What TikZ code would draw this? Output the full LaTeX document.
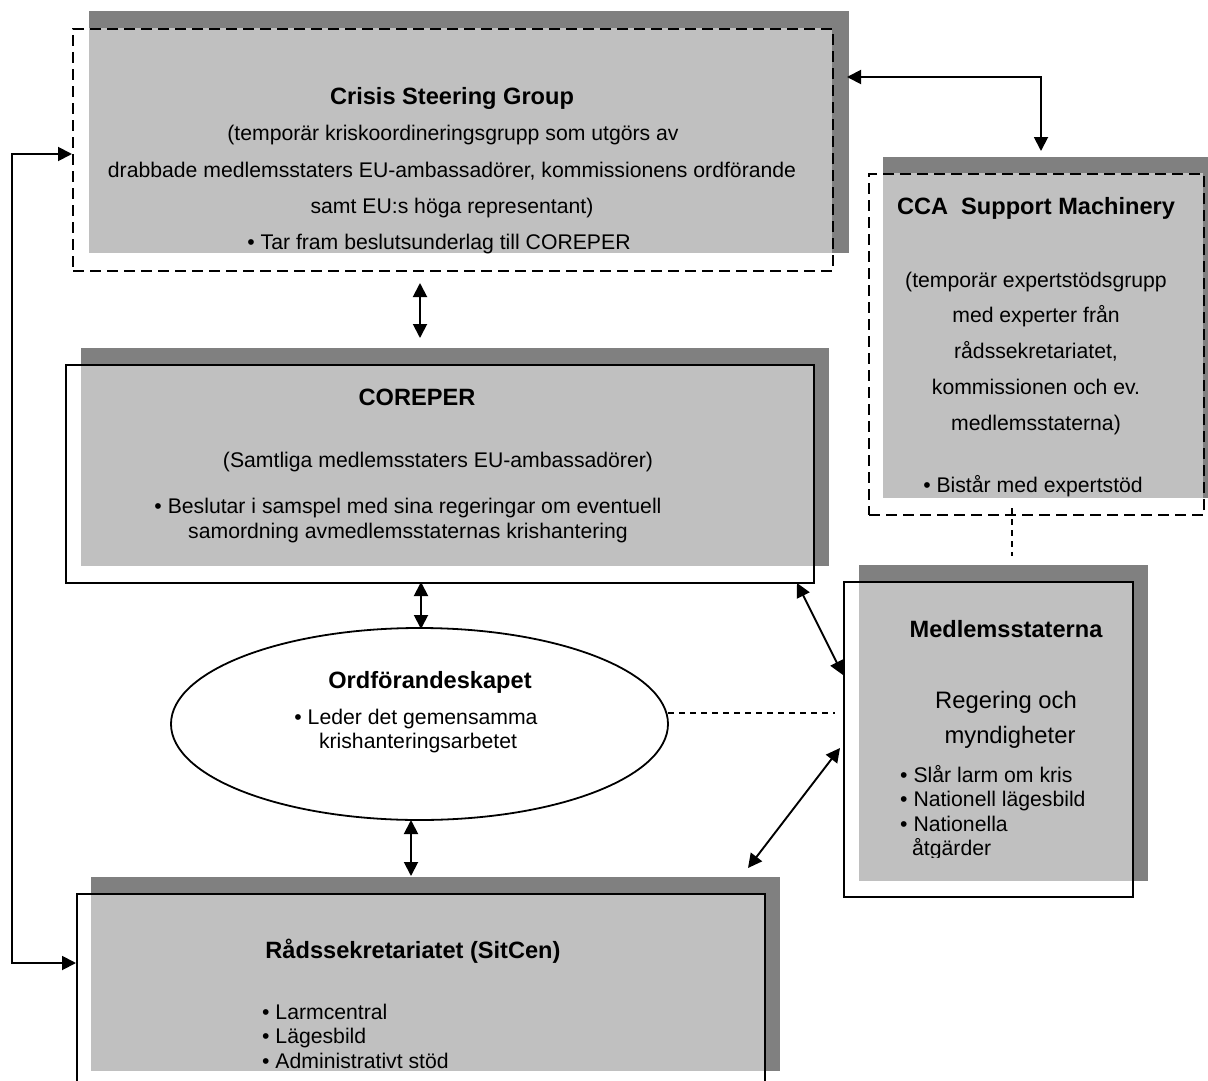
\documentclass[tikz,border=0pt]{standalone}
\usepackage{fontspec}
\setmainfont{Liberation Sans}
\usetikzlibrary{arrows.meta,shapes.geometric}
\definecolor{shadedark}{RGB}{128,128,128}
\definecolor{shadelight}{RGB}{192,192,192}
\newcommand\fbody{\fontsize{21.2}{25}\selectfont}
\newcommand\ftitle{\fontsize{23.6}{28}\selectfont\bfseries}
\newcommand\fbig{\fontsize{23.8}{28}\selectfont}
\tikzset{
  darkfill/.style={fill=shadedark},
  lightfill/.style={fill=shadelight},
  dashframe/.style={draw, rectangle, line width=2pt, dash pattern=on 11pt off 6pt, inner sep=0pt, anchor=north west},
  solidframe/.style={draw, rectangle, line width=2pt, inner sep=0pt, anchor=north west},
  ttl/.style={font=\ftitle, anchor=base, inner sep=0pt},
  txt/.style={font=\fbody, anchor=base, inner sep=0pt},
  txtl/.style={font=\fbody, anchor=base west, inner sep=0pt},
  big/.style={font=\fbig, anchor=base, inner sep=0pt},
  dbl/.style={{Triangle[length=14pt,width=14pt]}-{Triangle[length=14pt,width=14pt]}, line width=1.9pt},
  dashline/.style={line width=1.5pt, dash pattern=on 6pt off 5pt}
}
\begin{document}
\begin{tikzpicture}[x=1pt,y=-1pt]
\useasboundingbox (0,0) rectangle (1208,1081);
\clip (0,0) rectangle (1208,1081);
% shadows and fills
\fill[darkfill] (89,11) rectangle (849,253);
\fill[lightfill] (89,28) rectangle (832,253);
\fill[darkfill] (883,157) rectangle (1208,498);
\fill[lightfill] (883,173) rectangle (1203,498);
\fill[darkfill] (81,348) rectangle (829,566);
\fill[lightfill] (81,364) rectangle (813,566);
\fill[darkfill] (859,565) rectangle (1148,881);
\fill[lightfill] (859,581) rectangle (1132,881);
\fill[darkfill] (91,877) rectangle (780,1071);
\fill[lightfill] (91,893) rectangle (764,1071);
% frames
\node[dashframe, minimum width=760pt, minimum height=242pt] (csg) at (72,28) {};
\node[dashframe, minimum width=335pt, minimum height=341pt] (cca) at (868,173) {};
\node[solidframe, minimum width=748pt, minimum height=218pt] (cor) at (65,364) {};
\node[solidframe, minimum width=289pt, minimum height=315pt] (med) at (843,581) {};
\node[solidframe, minimum width=688pt, minimum height=194pt] (rs) at (76,893) {};
\node[draw, ellipse, line width=1.8pt, minimum width=497pt, minimum height=192pt, inner sep=0pt] (ordf) at (419.5,724) {};
% connector coordinates
\coordinate (csgL) at (72,154);
\coordinate (rsL) at (76,963);
\coordinate (csgR) at (847,77);
\coordinate (ccaT) at (1041,151);
\coordinate (csgB) at (420,283);
\coordinate (corT) at (420,338);
\coordinate (corB) at (421,582);
\coordinate (ordfT) at (421,629);
\coordinate (ordfB) at (411,820);
\coordinate (rsT) at (411,876);
\coordinate (corBR) at (797,583);
\coordinate (medL1) at (843,675);
\coordinate (medL2) at (840,748);
\coordinate (rsTR) at (748,868);
\coordinate (ordfR) at (668,713);
\coordinate (medL3) at (835,713);
\coordinate (ccaB) at (1012,508);
\coordinate (medT) at (1012,556);
% connectors
\draw[dbl] (csgL) -- (12,154) -- (12,963) -- (rsL);
\draw[dbl] (csgR) -- (1041,77) -- (ccaT);
\draw[dbl] (csgB) -- (corT);
\draw[dbl] (corB) -- (ordfT);
\draw[dbl] (ordfB) -- (rsT);
\draw[dbl] (corBR) -- (medL1);
\draw[dbl] (medL2) -- (rsTR);
\draw[dashline] (ordfR) -- (medL3);
\draw[dashline] (ccaB) -- (medT);
% CSG text
\node[ttl] (csg1) at (452,104) {Crisis Steering Group};
\node[txt] (csg2) at (453,140) {(temporär kriskoordineringsgrupp som utgörs av};
\node[txt] (csg3) at (452,177) {drabbade medlemsstaters EU-ambassadörer, kommissionens ordförande};
\node[txt] (csg4) at (452,213) {samt EU:s höga representant)};
\node[txt] (csg5) at (439,249) {• Tar fram beslutsunderlag till COREPER};
% CCA text
\node[ttl] (cca1) at (1036,214) {CCA\ \ Support Machinery};
\node[txt] (cca2) at (1036,287) {(temporär expertstödsgrupp};
\node[txt] (cca3) at (1036,322) {med experter från};
\node[txt] (cca4) at (1036,358) {rådssekretariatet,};
\node[txt] (cca5) at (1036,394) {kommissionen och ev.};
\node[txt] (cca6) at (1036,430) {medlemsstaterna)};
\node[txt] (cca7) at (1033,492) {• Bistår med expertstöd};
% COREPER text
\node[ttl] (cor1) at (417,405) {COREPER};
\node[txt] (cor2) at (438,467) {(Samtliga medlemsstaters EU-ambassadörer)};
\node[txt] (cor3) at (408,513) {• Beslutar i samspel med sina regeringar om eventuell};
\node[txt] (cor4) at (408,538) {samordning avmedlemsstaternas krishantering};
% Ordforandeskapet text
\node[ttl] (ordf1) at (430,688) {Ordförandeskapet};
\node[txt] (ordf2) at (416,724) {• Leder det gemensamma};
\node[txt] (ordf3) at (418,748) {krishanteringsarbetet};
% Medlemsstaterna text
\node[ttl] (med1) at (1006,637) {Medlemsstaterna};
\node[big] (med2) at (1006,708) {Regering och};
\node[big] (med3) at (1010,743) {myndigheter};
\node[txtl] (med4) at (900,782) {• Slår larm om kris};
\node[txtl] (med5) at (900,806) {• Nationell lägesbild};
\node[txtl] (med6) at (900,831) {• Nationella};
\begin{scope}
\clip (880,830) rectangle (1100,857);
\node[txtl] (med7) at (912,855) {åtgärder};
\end{scope}
% Radssekretariatet text
\node[ttl] (rs1) at (413,958) {Rådssekretariatet (SitCen)};
\node[txtl] (rs2) at (262,1019) {• Larmcentral};
\node[txtl] (rs3) at (262,1043) {• Lägesbild};
\node[txtl] (rs4) at (262,1068) {• Administrativt stöd};
\end{tikzpicture}
\end{document}
